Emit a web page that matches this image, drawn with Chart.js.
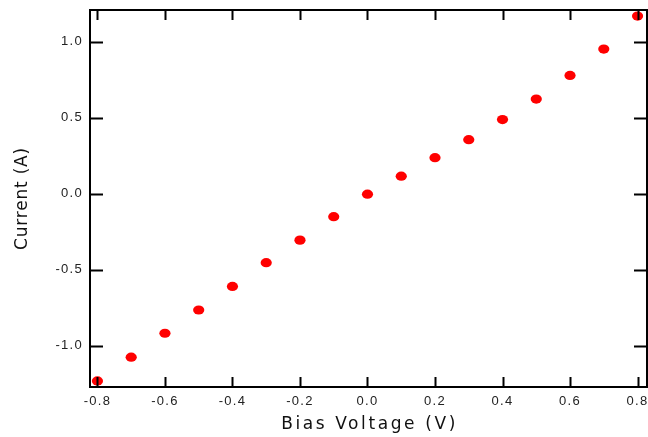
<!DOCTYPE html>
<html>
<head>
<meta charset="utf-8">
<script src="https://cdn.jsdelivr.net/npm/chart.js@4/dist/chart.umd.min.js"></script>
<style>
  html, body { margin: 0; padding: 0; background: #fff; }
  #wrap { width: 648px; height: 437px; position: relative; }
</style>
</head>
<body>
<div id="wrap"><canvas id="c" width="648" height="437"></canvas></div>
<script>
const biasVoltage = [-0.8, -0.7, -0.6, -0.5, -0.4, -0.3, -0.2, -0.1, 0.0, 0.1, 0.2, 0.3, 0.4, 0.5, 0.6, 0.7, 0.8];
const current = [-1.230, -1.074, -0.917, -0.764, -0.609, -0.453, -0.305, -0.151, -0.003, 0.115, 0.237, 0.355, 0.487, 0.622, 0.777, 0.950, 1.167];
const xTickValues = [-0.8, -0.6, -0.4, -0.2, 0.0, 0.2, 0.4, 0.6, 0.8];
const yTickValues = [-1.0, -0.5, 0.0, 0.5, 1.0];
const xTitle = 'Bias Voltage (V)';
const yTitle = 'Current (A)';

// ellipse-shaped point marker drawn at the element position computed by Chart.js
const origPointDraw = Chart.PointElement.prototype.draw;
Chart.PointElement.prototype.draw = function (ctx, area) {
  if (this.options.pointStyle !== 'ellipse') return origPointDraw.call(this, ctx, area);
  ctx.save();
  ctx.fillStyle = this.options.backgroundColor;
  ctx.beginPath();
  ctx.ellipse(this.x, this.y, 5.6, 4.6, 0, 0, Math.PI * 2);
  ctx.fill();
  ctx.restore();
};

const spacingPlugin = {
  id: 'spacing',
  beforeDraw(chart) { chart.ctx.letterSpacing = '1.3px'; }
};

const framePlugin = {
  id: 'frame',
  afterDraw(chart) {
    const ctx = chart.ctx;
    const a = chart.chartArea;
    const xs = chart.scales.x, ys = chart.scales.y;
    ctx.save();
    ctx.strokeStyle = '#000';
    ctx.lineWidth = 2;
    ctx.strokeRect(a.left, a.top, a.right - a.left, a.bottom - a.top);
    ctx.beginPath();
    xTickValues.forEach(v => {
      const p = Math.round(xs.getPixelForValue(v)) + 0.5;
      ctx.moveTo(p, a.bottom); ctx.lineTo(p, a.bottom - 10);
      ctx.moveTo(p, a.top); ctx.lineTo(p, a.top + 10);
    });
    yTickValues.forEach(v => {
      const p = Math.round(ys.getPixelForValue(v)) + 0.5;
      ctx.moveTo(a.left, p); ctx.lineTo(a.left + 13, p);
      ctx.moveTo(a.right, p); ctx.lineTo(a.right - 13, p);
    });
    ctx.stroke();

    // axis titles
    ctx.fillStyle = '#111';
    ctx.font = '17px "DejaVu Sans"';
    ctx.textAlign = 'center';
    ctx.textBaseline = 'middle';
    ctx.letterSpacing = '2.6px';
    ctx.fillText(xTitle, (a.left + a.right) / 2 + 1, 425);
    ctx.save();
    ctx.translate(23, (a.top + a.bottom) / 2);
    ctx.rotate(-Math.PI / 2);
    ctx.letterSpacing = '0.8px';
    ctx.fillText(yTitle, 0, 0);
    ctx.restore();
    ctx.restore();
  }
};

new Chart(document.getElementById('c'), {
  type: 'scatter',
  data: {
    datasets: [{
      data: biasVoltage.map((x, i) => ({ x: x, y: current[i] })),
      pointStyle: 'ellipse',
      pointRadius: 6,
      backgroundColor: '#ff0000',
      borderColor: '#ff0000',
      clip: false
    }]
  },
  options: {
    responsive: false,
    animation: false,
    devicePixelRatio: 1,
    layout: { autoPadding: false, padding: { left: 0, top: 10, right: 1, bottom: 0 } },
    plugins: { legend: { display: false }, tooltip: { enabled: false } },
    scales: {
      x: {
        type: 'linear',
        min: -0.822,
        max: 0.828,
        afterBuildTicks(scale) { scale.ticks = xTickValues.map(v => ({ value: v })); },
        afterFit(scale) { scale.height = 50; scale.paddingLeft = 0; scale.paddingRight = 0; },
        grid: { display: false, drawTicks: false },
        border: { display: false },
        ticks: {
          padding: 7,
          color: '#222',
          font: { family: 'Liberation Sans', size: 13 },
          maxRotation: 0,
          autoSkip: false,
          callback: v => v.toFixed(1)
        },
        title: { display: false }
      },
      y: {
        type: 'linear',
        min: -1.27,
        max: 1.207,
        afterBuildTicks(scale) { scale.ticks = yTickValues.map(v => ({ value: v })); },
        afterFit(scale) { scale.width = 90; scale.paddingTop = 0; scale.paddingBottom = 0; },
        grid: { display: false, drawTicks: false },
        border: { display: false },
        ticks: {
          padding: 7,
          color: '#222',
          font: { family: 'Liberation Sans', size: 13 },
          autoSkip: false,
          callback: v => v.toFixed(1)
        },
        title: { display: false }
      }
    }
  },
  plugins: [spacingPlugin, framePlugin]
});
</script>
</body>
</html>
